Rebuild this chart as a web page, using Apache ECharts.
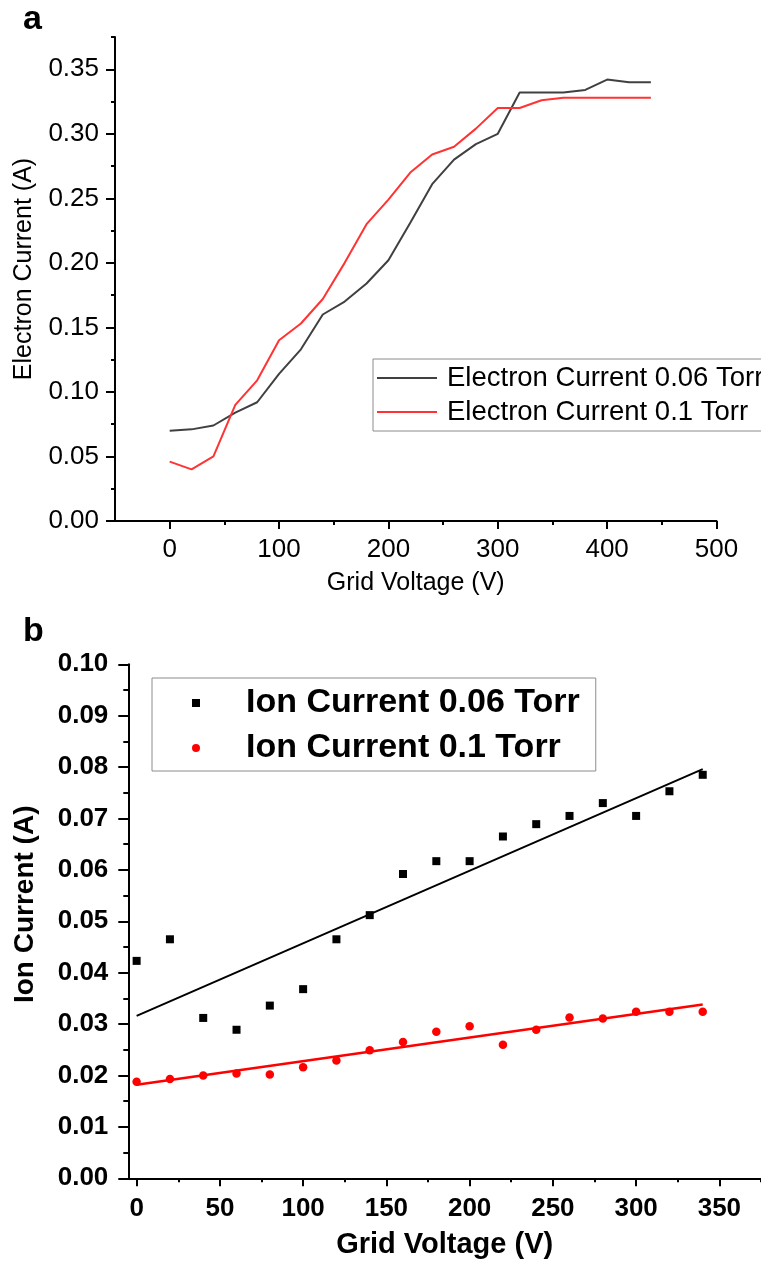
<!DOCTYPE html>
<html><head><meta charset="utf-8">
<script src="https://cdn.jsdelivr.net/npm/echarts@6/dist/echarts.min.js"></script>
<style>html,body{margin:0;padding:0;background:#fff}#chart{width:761px;height:1264px}</style>
</head><body><div id="chart"></div>
<script>
// ---- Panel a data ----
const voltageA = [0, 20, 40, 60, 80, 100, 120, 140, 160, 180, 200, 220, 240, 260, 280, 300, 320, 340, 360, 380, 400, 420, 440];
const electron006 = [0.070, 0.071, 0.074, 0.084, 0.092, 0.114, 0.133, 0.160, 0.170, 0.184, 0.202, 0.231, 0.261, 0.280, 0.292, 0.300, 0.332, 0.332, 0.332, 0.334, 0.342, 0.340, 0.340];
const electron01 = [0.046, 0.040, 0.050, 0.090, 0.109, 0.140, 0.153, 0.172, 0.200, 0.230, 0.249, 0.270, 0.284, 0.290, 0.304, 0.320, 0.320, 0.326, 0.328, 0.328, 0.328, 0.328, 0.328];
const xTicksA = [0, 100, 200, 300, 400, 500];
const xMinorA = [50, 150, 250, 350, 450];
const yTicksA = [0, 0.05, 0.10, 0.15, 0.20, 0.25, 0.30, 0.35];
const yMinorA = [0.025, 0.075, 0.125, 0.175, 0.225, 0.275, 0.325, 0.375];

// ---- Panel b data ----
const voltageB = [0, 20, 40, 60, 80, 100, 120, 140, 160, 180, 200, 220, 240, 260, 280, 300, 320, 340];
const ion006 = [0.0423, 0.0465, 0.0312, 0.0289, 0.0336, 0.0368, 0.0465, 0.0512, 0.0592, 0.0617, 0.0617, 0.0665, 0.0689, 0.0705, 0.0730, 0.0705, 0.0753, 0.0785];
const ion01 = [0.0188, 0.0193, 0.0200, 0.0204, 0.0202, 0.0216, 0.0229, 0.0249, 0.0265, 0.0285, 0.0296, 0.0260, 0.0289, 0.0313, 0.0311, 0.0324, 0.0324, 0.0324];
const fitX = [0, 340];
const fit006 = [0.0316, 0.0796];
const fit01 = [0.0182, 0.0338];
const xTicksB = [0, 50, 100, 150, 200, 250, 300, 350];
const xMinorB = [25, 75, 125, 175, 225, 275, 325, 375];
const yTicksB = [0, 0.01, 0.02, 0.03, 0.04, 0.05, 0.06, 0.07, 0.08, 0.09, 0.10];
const yMinorB = [0.005, 0.015, 0.025, 0.035, 0.045, 0.055, 0.065, 0.075, 0.085, 0.095];

const zip = (xs, ys) => xs.map((x, i) => [x, ys[i]]);
const FF = "'Liberation Sans', Arial, sans-serif";
const black = '#000';

const chart = echarts.init(document.getElementById('chart'), null, {renderer: 'canvas'});

function minorX(grid, min, max, vals, len) {
  return {type: 'value', gridIndex: grid, min, max, position: 'bottom',
    axisLine: {show: false, onZero: false}, splitLine: {show: false}, axisLabel: {show: false},
    axisTick: {show: true, customValues: vals, length: len, lineStyle: {color: black, width: 2}}};
}
function minorY(grid, min, max, vals, len) {
  return {type: 'value', gridIndex: grid, min, max, position: 'left',
    axisLine: {show: false, onZero: false}, splitLine: {show: false}, axisLabel: {show: false},
    axisTick: {show: true, customValues: vals, length: len, lineStyle: {color: black, width: 2}}};
}

const option = {
  animation: false,
  backgroundColor: '#fff',
  title: [
    {text: 'a', left: 18, top: -2, textStyle: {fontFamily: FF, fontSize: 34, fontWeight: 'bold', color: black}},
    {text: 'b', left: 18, top: 610, textStyle: {fontFamily: FF, fontSize: 34, fontWeight: 'bold', color: black}}
  ],
  grid: [
    {left: 115, top: 37, width: 601.5, height: 484},
    {left: 115, top: 37, width: 601.5, height: 484},
    {left: 128.3, top: 664.3, width: 638.4, height: 514},
    {left: 128.3, top: 664.3, width: 638.4, height: 514}
  ],
  xAxis: [
    {type: 'value', gridIndex: 0, min: -50, max: 500,
      name: 'Grid Voltage (V)', nameLocation: 'middle', nameGap: 50,
      nameTextStyle: {fontFamily: FF, fontSize: 25, color: black},
      axisLine: {show: true, onZero: false, lineStyle: {color: black, width: 2}},
      axisTick: {show: true, customValues: xTicksA, length: 8, lineStyle: {color: black, width: 2}},
      axisLabel: {customValues: xTicksA, margin: 16, fontFamily: FF, fontSize: 26, color: black},
      splitLine: {show: false}},
    minorX(1, -50, 500, xMinorA, 4),
    {type: 'value', gridIndex: 2, min: -5, max: 375,
      name: 'Grid Voltage (V)', nameLocation: 'middle', nameGap: 52,
      nameTextStyle: {fontFamily: FF, fontSize: 29, fontWeight: 'bold', color: black},
      axisLine: {show: true, onZero: false, lineStyle: {color: black, width: 2}},
      axisTick: {show: true, customValues: xTicksB, length: 8, lineStyle: {color: black, width: 2}},
      axisLabel: {customValues: xTicksB, margin: 18, fontFamily: FF, fontSize: 26, fontWeight: 'bold', color: black},
      splitLine: {show: false}},
    minorX(3, -5, 375, xMinorB, 4)
  ],
  yAxis: [
    {type: 'value', gridIndex: 0, min: 0, max: 0.375,
      name: 'Electron Current (A)', nameLocation: 'middle', nameGap: 78, nameRotate: 90,
      nameTextStyle: {fontFamily: FF, fontSize: 25, color: black, padding: [0, 0, 0, 20]},
      axisLine: {show: true, onZero: false, lineStyle: {color: black, width: 2}},
      axisTick: {show: true, customValues: yTicksA, length: 9, lineStyle: {color: black, width: 2}},
      axisLabel: {customValues: yTicksA, margin: 16, fontFamily: FF, fontSize: 26, color: black,
        formatter: v => v.toFixed(2)},
      splitLine: {show: false}},
    minorY(1, 0, 0.375, yMinorA, 4),
    {type: 'value', gridIndex: 2, min: 0, max: 0.10,
      name: 'Ion Current (A)', nameLocation: 'middle', nameGap: 89, nameRotate: 90,
      nameTextStyle: {fontFamily: FF, fontSize: 28, fontWeight: 'bold', color: black, padding: [0, 0, 0, 34]},
      axisLine: {show: true, onZero: false, lineStyle: {color: black, width: 2}},
      axisTick: {show: true, customValues: yTicksB, length: 10, lineStyle: {color: black, width: 2}},
      axisLabel: {customValues: yTicksB, margin: 20, fontFamily: FF, fontSize: 26, fontWeight: 'bold', color: black,
        formatter: v => v.toFixed(2)},
      splitLine: {show: false}},
    minorY(3, 0, 0.10, yMinorB, 5)
  ],
  legend: [
    {orient: 'vertical', left: 373, top: 359, padding: [4, 24, 4, 4], itemGap: 4,
      itemWidth: 60, itemHeight: 2,
      borderColor: '#8c8c8c', borderWidth: 1, backgroundColor: '#fff',
      data: [{name: 'Electron Current 0.06 Torr', icon: 'rect'}, {name: 'Electron Current 0.1 Torr', icon: 'rect'}],
      textStyle: {fontFamily: FF, fontSize: 27.5, color: black, lineHeight: 30, padding: [0, 0, 0, 5]}},
    {orient: 'vertical', left: 152, top: 678, padding: [5, 16, 3, 40], itemGap: 5,
      itemWidth: 8, itemHeight: 8,
      borderColor: '#8c8c8c', borderWidth: 1, backgroundColor: '#fff',
      data: ['Ion Current 0.06 Torr', 'Ion Current 0.1 Torr'],
      textStyle: {fontFamily: FF, fontSize: 34, fontWeight: 'bold', color: black, lineHeight: 40, padding: [0, 0, 0, 41]}}
  ],
  series: [
    {name: 'Electron Current 0.06 Torr', type: 'line', xAxisIndex: 0, yAxisIndex: 0,
      data: zip(voltageA, electron006), symbol: 'none', color: '#404040',
      lineStyle: {color: '#404040', width: 2}},
    {name: 'Electron Current 0.1 Torr', type: 'line', xAxisIndex: 0, yAxisIndex: 0,
      data: zip(voltageA, electron01), symbol: 'none', color: '#ff3333',
      lineStyle: {color: '#ff3333', width: 2}},
    {name: 'Ion Current 0.06 Torr', type: 'scatter', xAxisIndex: 2, yAxisIndex: 2,
      data: zip(voltageB, ion006), symbol: 'rect', symbolSize: 8, itemStyle: {color: '#000', opacity: 1}, z: 3},
    {name: 'Ion Current 0.1 Torr', type: 'scatter', xAxisIndex: 2, yAxisIndex: 2,
      data: zip(voltageB, ion01), symbol: 'circle', symbolSize: 8.5, itemStyle: {color: '#ff0000', opacity: 1}, z: 3},
    {name: 'fit 0.06', type: 'line', xAxisIndex: 2, yAxisIndex: 2,
      data: zip(fitX, fit006), symbol: 'none', lineStyle: {color: '#000', width: 2}, z: 2},
    {name: 'fit 0.1', type: 'line', xAxisIndex: 2, yAxisIndex: 2,
      data: zip(fitX, fit01), symbol: 'none', lineStyle: {color: '#ff0000', width: 2.5}, z: 2}
  ]
};
chart.setOption(option);
</script>
</body></html>
